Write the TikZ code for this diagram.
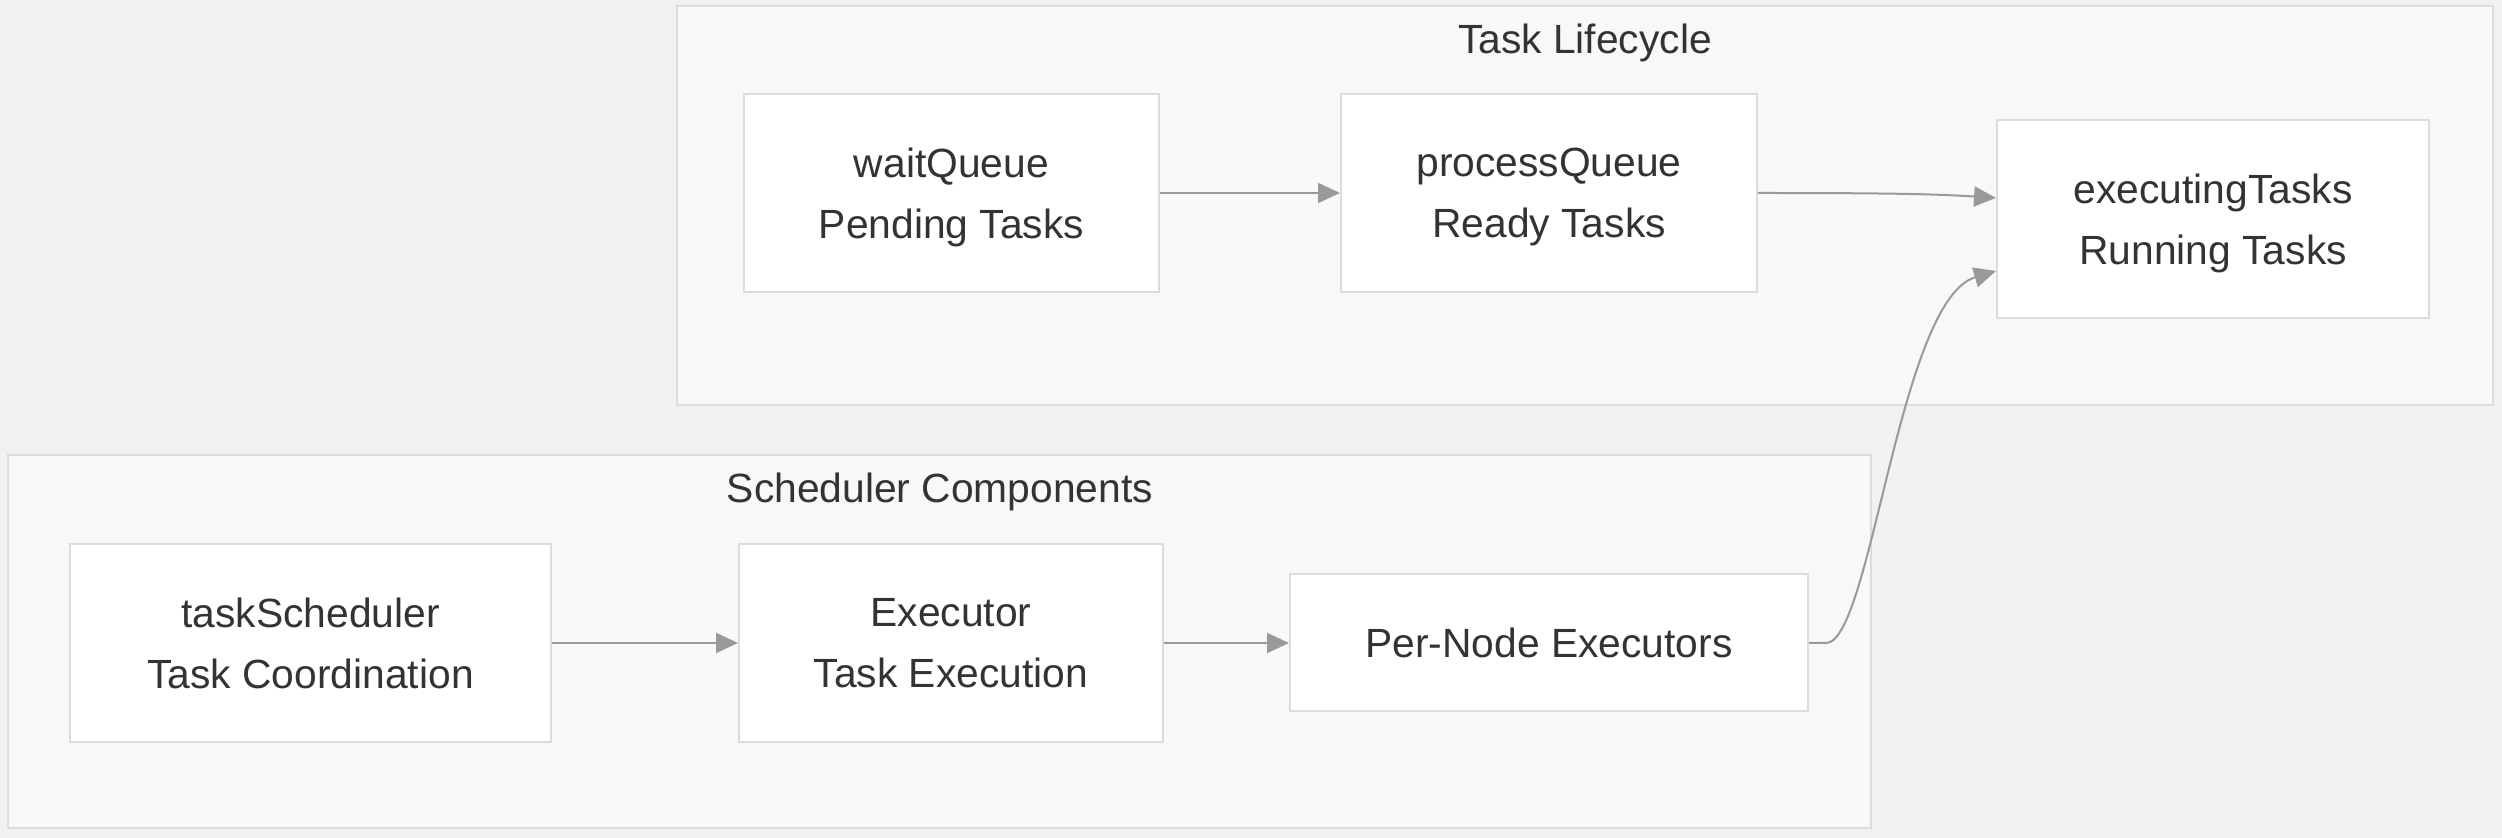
\documentclass[tikz,border=0pt]{standalone}
\usepackage{fontspec}
\setmainfont{Liberation Sans}
\usetikzlibrary{positioning,arrows.meta}
\definecolor{bgcol}{RGB}{242,241,240}
\definecolor{clfill}{RGB}{248,248,248}
\definecolor{boxline}{RGB}{220,220,220}
\definecolor{txtcol}{RGB}{51,51,51}
\definecolor{flowcol}{RGB}{153,153,153}
\tikzset{
  cluster/.style={draw=boxline,fill=clfill,line width=1pt},
  task/.style={rectangle,draw=boxline,fill=white,line width=1pt,align=center,text=txtcol,inner sep=0pt,text depth=0pt},
  flow/.style={draw=flowcol,line width=1pt,-{Triangle[length=11pt,width=10pt]}}
}
\begin{document}
\begin{tikzpicture}[x=0.5pt,y=-0.5pt,font=\fontsize{20.4}{30.5}\selectfont]
      % background
      \fill[bgcol] (0,0) rectangle (2502,838);

      % clusters
      \draw[cluster] (677,6) rectangle (2493,405);
      \node[text=txtcol] (lifetitle) at (1585,43) {Task Lifecycle};
      \draw[cluster] (8,455) rectangle (1871,828);
      \node[text=txtcol] (schedtitle) at (940,492) {Scheduler Components};

      % lifecycle queues
      \node[task,minimum width=207.5pt,minimum height=99pt] (waitq) at (951.5,193) {waitQueue\\Pending Tasks};
      \node[task,minimum width=208pt,minimum height=99pt] (procq) at (1549,193) {processQueue\\Ready Tasks};
      \node[task,minimum width=216pt,minimum height=99pt] (exectasks) at (2213,219) {executingTasks\\Running Tasks};

      % scheduler parts
      \node[task,minimum width=240.5pt,minimum height=99pt] (tasksched) at (310.5,643) {taskScheduler\\Task Coordination};
      \node[task,minimum width=212pt,minimum height=99pt] (executor) at (951,643) {Executor\\Task Execution};
      \node[task,minimum width=259pt,minimum height=68.5pt] (pernode) at (1549,643) {Per-Node Executors};

      % queue flow
      \draw[flow] (waitq) -- (procq);
      \draw[flow] (procq.east) .. controls +(130,0) and +(-60,-4) .. ([yshift=10.5pt]exectasks.west);

      % scheduler flow
      \draw[flow] (tasksched) -- (executor);
      \draw[flow] (executor) -- (pernode);
      \draw[flow] (pernode.east) -- ++(17,0) .. controls +(45,0) and +(-97,29) .. ([yshift=-26pt]exectasks.west);

   \end{tikzpicture}
\end{document}
